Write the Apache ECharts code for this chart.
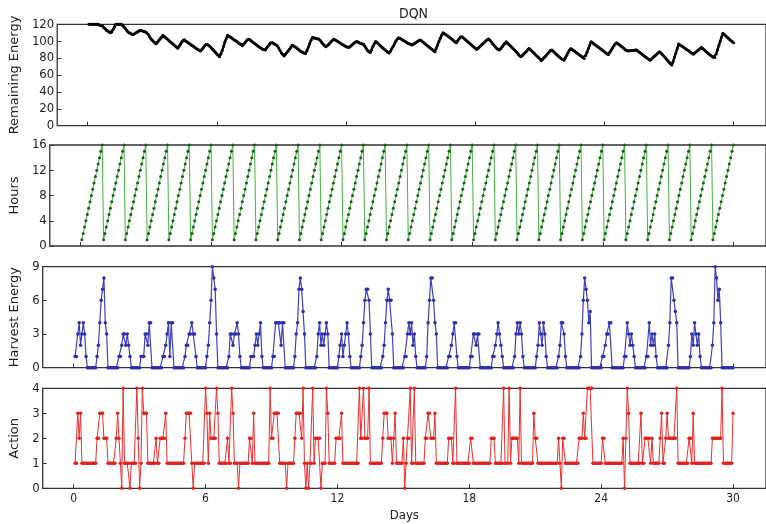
<!DOCTYPE html>
<html><head><meta charset="utf-8">
<script src="https://cdn.jsdelivr.net/npm/echarts@6/dist/echarts.min.js"></script>
<style>html,body{margin:0;padding:0;background:#fff}#c{width:766px;height:524px}</style>
</head><body><div id="c"></div>
<script>
// ---- data (16 readings per day, 30 days) ----
const dayTicks = [0, 6, 12, 18, 24, 30];
const energyTicks = [0, 20, 40, 60, 80, 100, 120];
const hoursTicks = [0, 4, 8, 12, 16];
const harvestTicks = [0, 3, 6, 9];
const actionTicks = [0, 1, 2, 3, 4];

const remainingEnergy = [
  [120,120,120,120,120,120,120,120,119,119,118,116,115,113,112,111],
  [110,111,114,117,120,120,120,120,120,119,117,115,113,111,110,109],
  [108,108,109,110,111,112,113,112.5,112,111.5,111,110,108,105.5,103,101],
  [99.5,98,97,99,101,103,105,107,105.6,104.2,102.8,101.4,100,98.6,97.2,95.8],
  [94.4,93,91.7,94,96.5,99,101,101.6,100,99,97.8,96.7,95.6,94.5,93.4,92.3],
  [91.2,90.1,89,88.5,90.5,92.5,94.5,96,96.4,95,93.5,92,90.5,88.5,86.5,85],
  [83.3,81.6,85,89,94,99,103,107,106,105,104,102.5,101.5,100.5,99.5,98],
  [97,96,94.5,96.5,98.5,100.5,102,102.4,101,99.8,98.6,97.4,96.2,95,93.8,92.6],
  [91.6,90.6,90,89.7,92,94,96,98,98.4,97.5,96.5,95.5,94.5,92,89,86],
  [84.2,82.6,84.5,86.5,88.5,90.5,92.5,95.2,94.5,93.5,92.5,91,89.5,88.5,87.5,86.5],
  [85.8,85.3,89,93,97,101,104.4,104,103.5,103,102.8,102.4,100.5,98.5,96.5,94.8],
  [93.3,94.5,96,98,99.5,101,102.4,101.5,100.5,99.5,98.5,97.5,96.5,95.5,94.5,93.5],
  [93,92.5,93.5,95,96.5,98,99,99.6,99,98,97.2,96.8,96.4,94,91.5,89],
  [87.5,86.5,90,94,97,99.6,98.5,97,95.5,94,92.5,91,89.5,88.5,87,86],
  [88,91,94,97,100,102.5,104,103.5,102.5,101.5,100.5,99.5,98.5,97.5,97,96.3],
  [95.6,96.5,97.5,98.5,99.5,100.5,101.5,100.5,99.2,97.9,96.6,95.3,94,92.7,91.4,90.1],
  [88.8,87.6,91.5,95.5,99.5,103.5,107,110,109,108,106.8,105.6,104.4,103.2,102,100.5],
  [99,98.2,100.5,103,105,105.4,104,102.7,101.4,100,98.6,97.2,95.8,94.4,93,91.6],
  [90.3,91.5,93,94.5,96,97.5,99,100.5,102,102.6,101,99,97,95,93,91.5],
  [90.3,89.5,91.5,93.5,95.5,97.5,99.4,97.8,96.2,94.6,93,91.4,89.8,88.2,86.6,84.5],
  [82.5,81.6,83.2,84.8,86.4,88,90,91.5,90,88.5,87,85.4,83.8,82.2,80.6,79],
  [76.8,78.5,80.3,82,83.8,85.6,87.5,89.2,89.5,88,86.5,85,83.5,82,80.5,79.2],
  [78.2,77.6,80.5,83.5,86.5,89.5,91.5,90.2,89,87.8,86.6,85.4,84.2,83,81.8,80.6],
  [79.6,83,87,91,95,99.4,98.2,97,95.8,94.6,93.4,92.2,91,89.8,88.6,87.4],
  [86,84.8,84.4,87,89.5,92,94.5,97,98.2,97,95.8,94.6,93.3,92,90.7,89.4],
  [88.7,88.5,88.7,88.9,89.1,89.3,89.5,89.5,88.2,87,85.8,84.5,83.2,82,80.7,79.5],
  [78.2,77.6,79,80.5,82,83.5,85,86.5,87.6,86,84.2,82.4,80.6,78.8,77,75.2],
  [73.5,71.7,76,81,86,91,96.6,95.6,94.6,93.6,92.5,91.4,90.3,89.2,88,86.9],
  [85.8,84.7,86,87.3,88.6,90,91.3,92.7,91.3,89.9,88.5,87.1,85.7,84.3,83,81.8],
  [81,80.8,85,90,95,100,105,109.3,108,106.5,105,103.5,102,100.5,99.3,98.2]
];

const hours = [
  [1,2,3,4,5,6,7,8,9,10,11,12,13,14,15,16],[1,2,3,4,5,6,7,8,9,10,11,12,13,14,15,16],
  [1,2,3,4,5,6,7,8,9,10,11,12,13,14,15,16],[1,2,3,4,5,6,7,8,9,10,11,12,13,14,15,16],
  [1,2,3,4,5,6,7,8,9,10,11,12,13,14,15,16],[1,2,3,4,5,6,7,8,9,10,11,12,13,14,15,16],
  [1,2,3,4,5,6,7,8,9,10,11,12,13,14,15,16],[1,2,3,4,5,6,7,8,9,10,11,12,13,14,15,16],
  [1,2,3,4,5,6,7,8,9,10,11,12,13,14,15,16],[1,2,3,4,5,6,7,8,9,10,11,12,13,14,15,16],
  [1,2,3,4,5,6,7,8,9,10,11,12,13,14,15,16],[1,2,3,4,5,6,7,8,9,10,11,12,13,14,15,16],
  [1,2,3,4,5,6,7,8,9,10,11,12,13,14,15,16],[1,2,3,4,5,6,7,8,9,10,11,12,13,14,15,16],
  [1,2,3,4,5,6,7,8,9,10,11,12,13,14,15,16],[1,2,3,4,5,6,7,8,9,10,11,12,13,14,15,16],
  [1,2,3,4,5,6,7,8,9,10,11,12,13,14,15,16],[1,2,3,4,5,6,7,8,9,10,11,12,13,14,15,16],
  [1,2,3,4,5,6,7,8,9,10,11,12,13,14,15,16],[1,2,3,4,5,6,7,8,9,10,11,12,13,14,15,16],
  [1,2,3,4,5,6,7,8,9,10,11,12,13,14,15,16],[1,2,3,4,5,6,7,8,9,10,11,12,13,14,15,16],
  [1,2,3,4,5,6,7,8,9,10,11,12,13,14,15,16],[1,2,3,4,5,6,7,8,9,10,11,12,13,14,15,16],
  [1,2,3,4,5,6,7,8,9,10,11,12,13,14,15,16],[1,2,3,4,5,6,7,8,9,10,11,12,13,14,15,16],
  [1,2,3,4,5,6,7,8,9,10,11,12,13,14,15,16],[1,2,3,4,5,6,7,8,9,10,11,12,13,14,15,16],
  [1,2,3,4,5,6,7,8,9,10,11,12,13,14,15,16],[1,2,3,4,5,6,7,8,9,10,11,12,13,14,15,16]
];

// one digit per hour
const harvestEnergy = [
  "1134234310000000","1246784300000000","1123323210000000","1113324400000000",
  "1123414400000000","1223343310000000","1246987300000000","1332334310000000",
  "1112323410000000","1144442440000000","1347875300000000","1342323430000000",
  "1231234310000000","1246776300000000","1246766300000000","1134342310000000",
  "1468864300000000","1123441000000000","1133233000000000","1123432100000000",
  "1343431000000000","1243243100000000","1244310000000000","1368764500000000",
  "1123344000000000","1143232100000000","1142323100000000","2488654000000000",
  "1324323100000000","2498674000000000"
];

const action = [
  "1132311111111111","2233322211111123","2104111101111420","1433311111121122",
  "2231111111111111","2333310111111114","3132222431111112","1143111011111112",
  "2131111111111142","2333311111011111","2333324101011412","2220111431111122",
  "2231111111111114","2242224111111111","2333222123111112","0122411411111112",
  "2332223111111111","2221141111111111","2211111111111112","2211111141114122",
  "2221411111111132","2111111111111111","2102211111111112","2232244441111111",
  "2211111111111112","0243111111113112","2221211111231123","2222224111111112",
  "2131111111111111","2222222411111113"
];

// ---- build (day + hour/16) pairs ----
function toPairs(rows) {
  const out = [];
  rows.forEach((row, d) => {
    const vals = typeof row === 'string' ? row.split('').map(Number) : row;
    vals.forEach((v, h) => out.push([d + (h + 1) / 16, v]));
  });
  return out;
}

const FONT = "'DejaVu Sans Condensed','DejaVu Sans',sans-serif";
const TXT = '#222';
const grids = [
  {top: 24.3, height: 101.4},
  {top: 145, height: 101},
  {top: 266.7, height: 101},
  {top: 388.3, height: 100}
].map(g => Object.assign({left: 42.7, right: -7.3, show: true, borderColor: '#333', borderWidth: 1.3, backgroundColor: 'transparent'}, g));

function xAxis(i) {
  const last = i === 3;
  return {
    type: 'value', gridIndex: i, min: -1.41, max: 31.5,
    axisLine: {show: false, onZero: false},
    splitLine: {show: false},
    axisTick: {show: true, inside: true, length: 4, customValues: dayTicks, lineStyle: {color: '#333'}},
    axisLabel: {show: last, customValues: dayTicks, fontFamily: FONT, fontSize: 12, color: TXT, margin: 5},
    name: last ? 'Days' : '', nameLocation: 'middle', nameGap: 21,
    nameTextStyle: {fontFamily: FONT, fontSize: 13, color: TXT}
  };
}
function yAxis(i, max, interval, name, gap) {
  return {
    type: 'value', gridIndex: i, min: 0, max: max, interval: interval,
    axisLine: {show: false, onZero: false},
    splitLine: {show: false},
    axisTick: {show: true, inside: true, length: 4, lineStyle: {color: '#333'}},
    axisLabel: {fontFamily: FONT, fontSize: 13, color: TXT, margin: 3},
    name: name, nameLocation: 'middle', nameGap: gap, nameRotate: 90,
    nameTextStyle: {fontFamily: "'DejaVu Sans',sans-serif", fontSize: 13, color: TXT}
  };
}

const option = {
  animation: false,
  backgroundColor: '#fff',
  title: {text: 'DQN', left: 394, top: 2, textStyle: {fontFamily: FONT, fontSize: 14, fontWeight: 'normal', color: TXT}},
  grid: grids,
  xAxis: [0, 1, 2, 3].map(xAxis),
  yAxis: [
    yAxis(0, energyTicks[energyTicks.length - 1], 20, 'Remaining Energy', 28),
    yAxis(1, hoursTicks[hoursTicks.length - 1], 4, 'Hours', 21),
    yAxis(2, harvestTicks[harvestTicks.length - 1], 3, 'Harvest Energy', 16),
    yAxis(3, actionTicks[actionTicks.length - 1], 1, 'Action', 16)
  ],
  series: [
    {type: 'line', name: 'Remaining Energy', xAxisIndex: 0, yAxisIndex: 0, data: toPairs(remainingEnergy),
     symbol: 'circle', symbolSize: 3, itemStyle: {color: '#000'}, lineStyle: {color: '#000', width: 2.4}},
    {type: 'line', name: 'Hours', xAxisIndex: 1, yAxisIndex: 1, data: toPairs(hours),
     symbol: 'circle', symbolSize: 3, itemStyle: {color: '#1b5e1b'}, lineStyle: {color: '#45b045', width: 1}},
    {type: 'line', name: 'Harvest Energy', xAxisIndex: 2, yAxisIndex: 2, data: toPairs(harvestEnergy),
     symbol: 'circle', symbolSize: 3.5, itemStyle: {color: '#2f2fa8'}, lineStyle: {color: '#4040b8', width: 1.2}},
    {type: 'line', name: 'Action', xAxisIndex: 3, yAxisIndex: 3, data: toPairs(action),
     symbol: 'circle', symbolSize: 3.5, itemStyle: {color: '#e02222'}, lineStyle: {color: '#e83030', width: 1}}
  ]
};
echarts.init(document.getElementById('c'), null, {renderer: 'canvas'}).setOption(option);
</script></body></html>
